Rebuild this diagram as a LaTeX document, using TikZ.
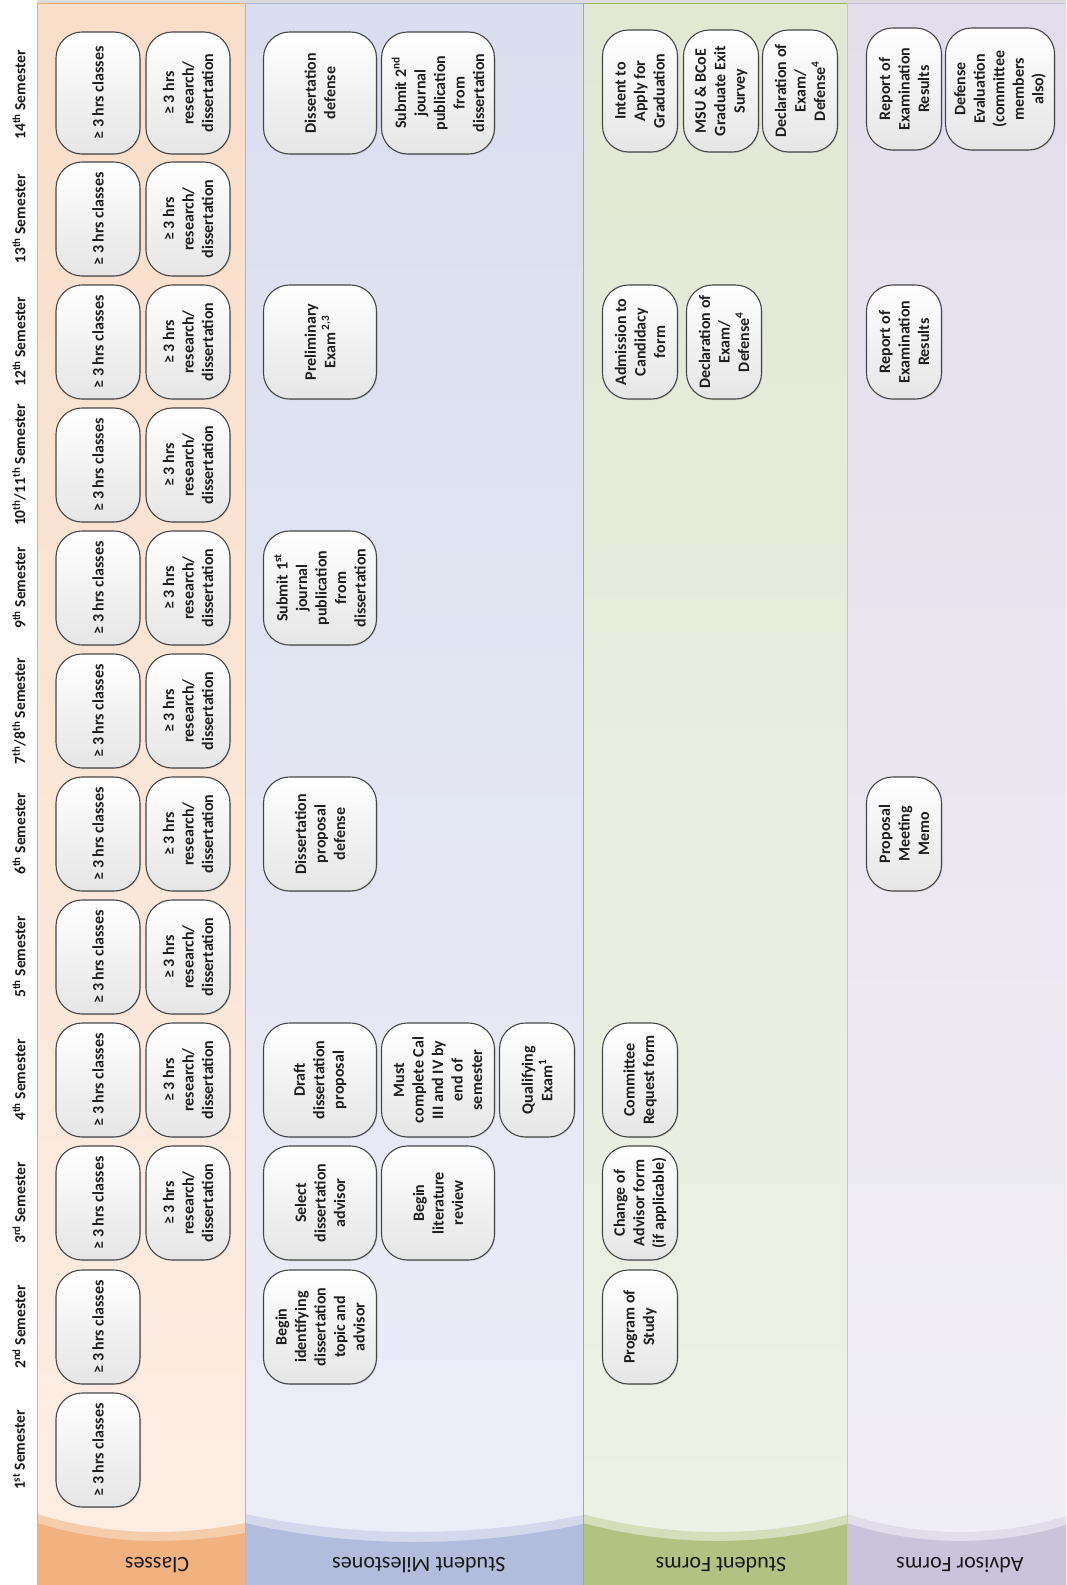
\documentclass[tikz,border=0pt]{standalone}
\usepackage{fontspec}
\setmainfont{Carlito}
\usetikzlibrary{shadows}
\definecolor{clsBody}{HTML}{F9DECA}
\definecolor{clsBodyB}{HTML}{FCEEE4}
\definecolor{clsBand}{HTML}{F6CDAA}
\definecolor{clsHead}{HTML}{F1B282}
\definecolor{clsLine}{HTML}{F4A771}
\definecolor{msBody}{HTML}{DADEEE}
\definecolor{msBodyB}{HTML}{ECEEF7}
\definecolor{msBand}{HTML}{D3D8EC}
\definecolor{msHead}{HTML}{B2BDDE}
\definecolor{msLine}{HTML}{A9B6DA}
\definecolor{sfBody}{HTML}{E2E8D4}
\definecolor{sfBodyB}{HTML}{EEF2E7}
\definecolor{sfBand}{HTML}{D4DEBB}
\definecolor{sfHead}{HTML}{B2C283}
\definecolor{sfLine}{HTML}{9CB65E}
\definecolor{afBody}{HTML}{E3DEEB}
\definecolor{afBodyB}{HTML}{F1EFF5}
\definecolor{afBand}{HTML}{E2DDEB}
\definecolor{afHead}{HTML}{CBC3DA}
\definecolor{afLine}{HTML}{C8C0DC}
\begin{document}
\begin{tikzpicture}[x=1pt,y=-1pt,
  box/.style={draw=black!72, line width=1.1pt, rounded corners=26pt, rotate=90,
    top color=white, bottom color=black!10, inner sep=0pt, align=center,
    font=\bfseries\fontsize{16}{19.5}\selectfont, text=black!88,
    drop shadow={opacity=0.22, shadow xshift=1pt, shadow yshift=-1pt}},
  cb/.style={box, minimum width=114pt, minimum height=84pt},
  mb/.style={box, minimum width=114pt, minimum height=113pt},
  nb/.style={box, minimum width=114pt, minimum height=75pt},
  wb/.style={box, minimum width=114pt, minimum height=109pt},
  tall/.style={minimum width=122pt},
  semlbl/.style={rotate=90, font=\bfseries\fontsize{15.5}{18}\selectfont, text=black!90, inner sep=0pt},
  lanelbl/.style={rotate=180, font=\fontsize{22}{26}\selectfont, text=black!90, inner sep=0pt}
]
\useasboundingbox (0,0) rectangle (1066,1585);
\fill[white] (0,0) rectangle (1066,1585);
% top strip
\fill[black!14] (37,0) rectangle (1066,3.5);
% lanes
\fill[top color=clsBody, bottom color=clsBodyB] (37,3.5) rectangle (245,1585);
\fill[top color=msBody, bottom color=msBodyB] (245,3.5) rectangle (583,1585);
\fill[top color=sfBody, bottom color=sfBodyB] (583,3.5) rectangle (847,1585);
\fill[top color=afBody, bottom color=afBodyB] (847,3.5) rectangle (1066,1585);
% header bands
\fill[clsBand] (37,1514) parabola bend (156,1532) (245,1523) -- (245,1585) -- (37,1585) -- cycle;
\fill[clsHead] (37,1523) parabola bend (156,1541) (245,1533) -- (245,1585) -- (37,1585) -- cycle;
\fill[msBand] (245,1514) parabola bend (414,1532) (583,1515) -- (583,1585) -- (245,1585) -- cycle;
\fill[msHead] (245,1523) parabola bend (414,1542) (583,1524) -- (583,1585) -- (245,1585) -- cycle;
\fill[sfBand] (583,1514) parabola bend (718,1532) (847,1515) -- (847,1585) -- (583,1585) -- cycle;
\fill[sfHead] (583,1523) parabola bend (718,1541) (847,1524) -- (847,1585) -- (583,1585) -- cycle;
\fill[afBand] (847,1514) parabola bend (960,1532) (1066,1516) -- (1066,1585) -- (847,1585) -- cycle;
\fill[afHead] (847,1523) parabola bend (960,1541) (1066,1525) -- (1066,1585) -- (847,1585) -- cycle;
% lane borders
\draw[clsLine, line width=1pt] (37,1585) -- (37,3.5) -- (245,3.5);
\draw[msLine, line width=1pt] (245,1585) -- (245,3.5) -- (583,3.5);
\draw[sfLine, line width=1pt] (583,1585) -- (583,3.5) -- (847,3.5);
\draw[afLine, line width=1pt] (847,1585) -- (847,3.5) -- (1066,3.5);
% lane labels
\node[lanelbl] (lane-cls) at (157,1565) {Classes};
\node[lanelbl] (lane-ms) at (419,1565) {Student Milestones};
\node[lanelbl] (lane-sf) at (721,1565) {Student Forms};
\node[lanelbl] (lane-af) at (960,1565) {Advisor Forms};
% semester labels
\node[semlbl] (sem1) at (19,1450) {1\textsuperscript{st} Semester};
\node[semlbl] (sem2) at (19,1327) {2\textsuperscript{nd} Semester};
\node[semlbl] (sem3) at (19,1203) {3\textsuperscript{rd} Semester};
\node[semlbl] (sem4) at (19,1080) {4\textsuperscript{th} Semester};
\node[semlbl] (sem5) at (19,957) {5\textsuperscript{th} Semester};
\node[semlbl] (sem6) at (19,834) {6\textsuperscript{th} Semester};
\node[semlbl] (sem78) at (19,711) {7\textsuperscript{th}/8\textsuperscript{th} Semester};
\node[semlbl] (sem9) at (19,588) {9\textsuperscript{th} Semester};
\node[semlbl] (sem1011) at (19,465) {10\textsuperscript{th}/11\textsuperscript{th} Semester};
\node[semlbl] (sem12) at (19,342) {12\textsuperscript{th} Semester};
\node[semlbl] (sem13) at (19,219) {13\textsuperscript{th} Semester};
\node[semlbl] (sem14) at (19,95) {14\textsuperscript{th} Semester};
% classes column
\foreach \n/\y in {r1/1450, r2/1327, r3/1203, r4/1080, r5/957, r6/834, r78/711, r9/588, r1011/465, r12/342, r13/219}
  \node[cb] (cls-\n) at (98,\y) {≥ 3 hrs classes};
\node[cb, tall] (cls-r14) at (98,93) {≥ 3 hrs classes};
\foreach \n/\y in {r3/1203, r4/1080, r5/957, r6/834, r78/711, r9/588, r1011/465, r12/342, r13/219}
  \node[cb] (res-\n) at (188,\y) {≥ 3 hrs\\research/\\dissertation};
\node[cb, tall] (res-r14) at (188,93) {≥ 3 hrs\\research/\\dissertation};
% student milestones
\node[mb] (ms-begin) at (320,1327) {Begin\\identifying\\dissertation\\topic and\\advisor};
\node[mb] (ms-select) at (320,1203) {Select\\dissertation\\advisor};
\node[mb] (ms-litrev) at (438,1203) {Begin\\literature\\review};
\node[mb] (ms-draft) at (320,1080) {Draft\\dissertation\\proposal};
\node[mb] (ms-cal) at (438,1080) {Must\\complete Cal\\III and IV by\\end of\\semester};
\node[nb] (ms-qual) at (537,1080) {Qualifying\\Exam\textsuperscript{1}};
\node[mb] (ms-propdef) at (320,834) {Dissertation\\proposal\\defense};
\node[mb] (ms-pub1) at (320,588) {Submit 1\textsuperscript{st}\\journal\\publication\\from\\dissertation};
\node[mb] (ms-prelim) at (320,342) {Preliminary\\Exam\,\textsuperscript{2,3}};
\node[mb, tall] (ms-defense) at (320,93) {Dissertation\\defense};
\node[mb, tall] (ms-pub2) at (438,93) {Submit 2\textsuperscript{nd}\\journal\\publication\\from\\dissertation};
% student forms
\node[nb] (sf-pos) at (640,1327) {Program of\\Study};
\node[nb] (sf-chg) at (640,1203) {Change of\\Advisor form\\(if applicable)};
\node[nb] (sf-comm) at (640,1080) {Committee\\Request form};
\node[nb] (sf-cand) at (640,342) {Admission to\\Candidacy\\form};
\node[nb] (sf-decl1) at (724,342) {Declaration of\\Exam/\\Defense\textsuperscript{4}};
\node[nb, tall] (sf-intent) at (640,91) {Intent to\\Apply for\\Graduation};
\node[nb, tall] (sf-exit) at (721,91) {MSU \& BCoE\\Graduate Exit\\Survey};
\node[nb, tall] (sf-decl2) at (800,91) {Declaration of\\Exam/\\Defense\textsuperscript{4}};
% advisor forms
\node[nb] (af-memo) at (904,834) {Proposal\\Meeting\\Memo};
\node[nb] (af-rep1) at (904,342) {Report of\\Examination\\Results};
\node[nb, tall] (af-rep2) at (904,89) {Report of\\Examination\\Results};
\node[wb, tall] (af-eval) at (1000,89) {Defense\\Evaluation\\(committee\\members\\also)};
\end{tikzpicture}
\end{document}
